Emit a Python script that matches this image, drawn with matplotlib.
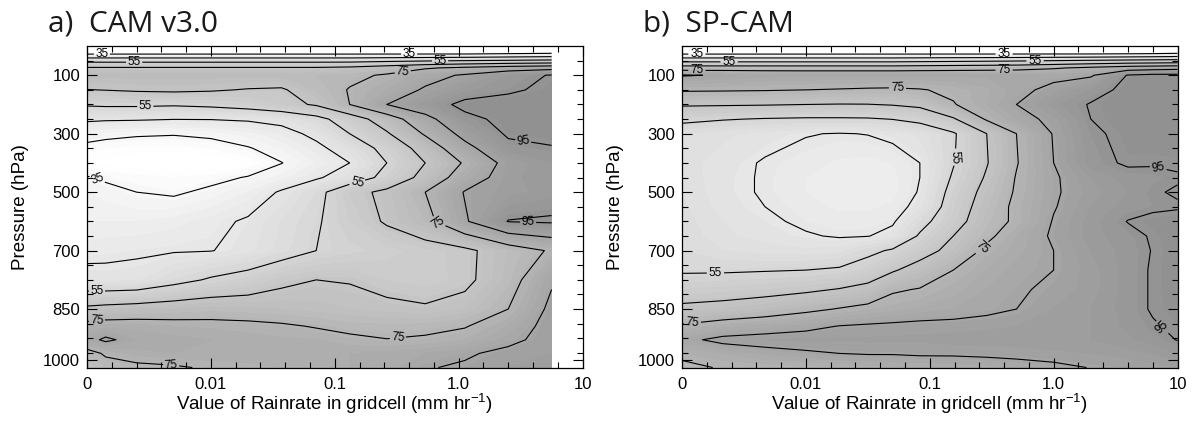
"""
Two-panel grayscale contour chart: frequency (%) versus pressure and
gridcell rainrate for CAM v3.0 and SP-CAM.
"""

import numpy as np
import matplotlib.pyplot as plt
from matplotlib.colors import LinearSegmentedColormap, Normalize
from matplotlib.ticker import FixedLocator, NullFormatter

plt.rcParams['font.family'] = ['Liberation Sans', 'DejaVu Sans']
plt.rcParams['mathtext.fontset'] = 'custom'
plt.rcParams['mathtext.rm'] = 'Liberation Sans'
plt.rcParams['mathtext.it'] = 'Liberation Sans:italic'

# ─── Data ────────────────────────────────────────────────────────────────────
# x: log10 of rainrate (mm/hr); the "0" bin sits at 0.001
RAIN_A = [-3, -2.85, -2.6, -2.3, -2.0, -1.7, -1.43, -1.15, -0.88, -0.58, -0.27, 0.05, 0.4, 0.75]
PRES_A = [0, 25, 50, 75, 100, 150, 200, 250, 300, 350, 400, 450, 500,
          600, 700, 775, 850, 900, 940, 980, 1021.4]
VAL_A = [
    [5, 5, 5, 5, 5, 5, 5, 5, 5, 5, 5, 5, 5, 5],
    [33, 33, 33, 33, 33, 33, 33, 33, 33, 33, 33, 33, 34, 35],
    [52, 52, 52, 52, 52, 52, 52, 52, 52, 53, 54, 55, 56, 57],
    [66, 66, 66, 66, 66, 66, 66, 66, 67, 70, 74, 77, 80, 82],
    [71, 71, 71, 71, 71, 71, 71, 72, 73, 76, 82, 86, 92, 95.5],
    [64.8, 65.2, 66, 66.5, 65.8, 64.5, 64, 70, 75.5, 80, 86, 91, 94, 96.5],
    [56, 56.5, 56.5, 56, 57, 59, 62, 66, 75, 85, 91, 97, 97.5, 97.5],
    [46.5, 46, 45.8, 45.2, 45.3, 46, 47.5, 52, 60, 70, 82, 93, 97, 97.5],
    [38, 37, 36, 35.5, 36.5, 39, 42, 47, 55, 64, 76, 88, 96, 97],
    [33, 32, 31, 31, 32, 34.5, 38, 43, 49, 58, 69, 82, 93, 94.5],
    [30, 29, 28, 27, 27.5, 30, 34.8, 40, 45, 55, 65, 76, 88, 92],
    [35.5, 34, 33, 32, 33, 35.5, 39, 44, 49, 58, 68, 80, 89, 92],
    [38, 37, 35, 34, 36.5, 40, 46, 52, 62, 67, 75, 85.5, 89, 91],
    [40, 40, 40, 41, 43, 46, 50, 54, 60, 66, 72, 84, 95.3, 96],
    [43, 43.5, 44, 44.5, 44.8, 47, 51, 55, 57, 59, 61, 63, 70, 76],
    [47.5, 47, 47.5, 52, 56, 59, 63, 65, 64.5, 62, 60.5, 63, 71, 84],
    [67, 68, 69, 70, 71, 70.5, 70, 69, 68, 67, 66, 68, 75, 87],
    [78, 79, 79, 78, 77.5, 77, 76, 74.5, 73, 72.5, 73, 74.5, 80, 88],
    [82, 86.5, 82, 81, 80, 79, 78.5, 78, 76.5, 75.2, 76, 78, 83, 88],
    [72, 76, 79, 80, 80, 80, 80, 80, 80, 80.5, 82, 84, 87, 88],
    [68, 72, 73, 74, 76, 77, 78, 79, 80, 81, 84.5, 86, 88, 89],
]

RAIN_B = [-3, -2.67, -2.33, -2, -1.73, -1.5, -1.3, -1.08, -0.81, -0.54, -0.3, 0.0, 0.3, 0.6, 0.8, 1.0]
PRES_B = [0, 25, 50, 75, 100, 150, 200, 250, 300, 400, 450, 500, 550,
          600, 650, 700, 750, 800, 850, 900, 940, 980, 1021.4]
VAL_B = [
    [5, 5, 5, 5, 5, 5, 5, 5, 5, 5, 5, 5, 5, 5, 5, 5],
    [33, 33, 33, 33, 33, 33, 33, 33, 33, 33, 33, 33, 33, 33.5, 34, 35],
    [52, 52, 52, 52, 52, 52, 52, 52.5, 53, 53.5, 54, 55, 56, 57, 57.5, 58],
    [70, 70, 70, 70, 70, 70, 70, 70.5, 71, 71.5, 72, 74, 77, 80, 81, 82],
    [85.5, 84.5, 83, 82.5, 82.5, 82.5, 82.5, 82.5, 82.5, 82.5, 82.5, 83, 84, 95.5, 97, 97],
    [76, 75.8, 75.5, 75, 74.5, 74, 73.8, 74.5, 76.5, 79.5, 83, 87, 92, 97, 97.5, 98],
    [66, 65.8, 65.5, 65, 64.7, 64.8, 65.5, 67, 74.5, 80, 85, 91, 95.5, 97.5, 98, 98],
    [57, 55.5, 54.5, 54, 54, 54.2, 55.2, 57.5, 64, 76, 82, 87, 95, 97.5, 98, 98],
    [50, 48.5, 47, 45.3, 44.7, 45.2, 46.5, 48.5, 54, 65, 75, 85.5, 94, 96.5, 97, 97],
    [49, 47, 44.5, 43, 41.5, 41, 42, 45, 54.5, 64.5, 74.5, 85, 93, 95.8, 95.5, 95.8],
    [49.5, 46.5, 44.5, 42, 40.5, 40, 41, 45, 56, 66, 75.5, 84, 90, 93, 93.5, 94.5],
    [50, 46.5, 44.5, 42, 40.5, 40, 41, 45.5, 58, 68, 76, 84, 89, 92, 94.5, 95.5],
    [50.5, 47, 45, 43, 41.5, 41.5, 42.5, 47, 59.5, 69.5, 77, 84.5, 90, 93, 94, 94.5],
    [51, 48, 46, 44, 43, 43, 44.2, 52, 61, 71, 76.5, 85.5, 91, 95.2, 96.5, 97],
    [51.5, 48.5, 47, 45.5, 44.5, 44.8, 47, 56, 65, 73, 80, 86, 91, 93.5, 95.5, 97],
    [52, 50, 49, 48.5, 49, 53, 56, 61, 68, 77, 81, 85, 90, 93, 95.2, 97],
    [54, 54, 54.5, 55, 56, 59, 64, 69, 75, 80, 83, 85, 89, 93, 95.5, 97],
    [60, 61, 62, 63.5, 65.5, 68, 74, 75.5, 79, 82, 84, 86.5, 89, 93, 95.5, 97],
    [67, 68, 70, 73, 75.5, 77.5, 79, 80.5, 82, 83.5, 85, 88, 90, 93, 95.5, 96.5],
    [76, 79, 81, 83, 85.2, 86, 86.5, 87, 87, 87.5, 88, 89, 90, 92.5, 94.5, 96],
    [83, 87, 88, 88.5, 88.5, 88.5, 88.5, 88.5, 89, 89, 89, 89.5, 90, 91.5, 93, 95.2],
    [78, 80, 82.5, 84, 85, 85.5, 85.5, 86, 86, 86.5, 87, 87.5, 88, 89, 90, 92],
    [72, 76, 76.5, 77, 78, 79, 79.5, 80, 80.5, 81, 82, 83.5, 85.2, 86, 87, 88],
]

X_TICKS = [-3, -2, -1, 0, 1]
X_TICK_LABELS = ['0', '0.01', '0.1', '1.0', '10']
P_TICKS = [100, 300, 500, 700, 850, 1000]
PLAIN_LEVELS = [45, 65, 85]
LABEL_LEVELS = [35, 55, 75, 95]

# rough spots for the contour labels (x, hPa)
LABELS_A = [(-2.88, 28), (-2.62, 55), (-0.4, 28), (-0.15, 55), (-0.45, 92),
            (-2.53, 205), (-2.92, 459), (-0.83, 447), (-0.15, 584),
            (0.52, 327), (0.56, 610), (-2.92, 808), (-2.92, 887),
            (-0.49, 939), (-2.32, 1009)]
LABELS_B = [(-2.88, 28), (-2.62, 58), (-2.88, 85), (-0.4, 28), (-0.15, 58),
            (-0.4, 85), (-1.26, 140), (-0.8, 380), (0.84, 425),
            (-0.6, 680), (-2.73, 764), (-2.92, 877), (0.92, 887)]

# ─── Pressure axis: stretched, piecewise-linear in position ─────────────────
P_KNOTS = [0, 700, 850, 1000, 1021.4]
U_KNOTS = [0, 14, 18, 21.5, 22]


def p2u(p):
    return np.interp(p, P_KNOTS, U_KNOTS)


def u2p(u):
    return np.interp(u, U_KNOTS, P_KNOTS)


cmap = LinearSegmentedColormap.from_list('grays', [(1, 1, 1), (0.55, 0.55, 0.55)])
norm = Normalize(vmin=30, vmax=100)
fill_levels = np.arange(0, 101, 2)

fig = plt.figure(figsize=(11.94, 4.21), dpi=100)
fig.patch.set_facecolor('white')

panels = [
    (0.0729, RAIN_A, PRES_A, VAL_A, LABELS_A, 'a)  CAM v3.0', 48),
    (0.5712, RAIN_B, PRES_B, VAL_B, LABELS_B, 'b)  SP-CAM', 643),
]

for left, rain, pres, vals, lab_pos, title, tx in panels:
    ax = fig.add_axes([left, 0.127, 0.4150, 0.7637])
    ax.set_yscale('function', functions=(p2u, u2p))
    X, P = np.meshgrid(rain, pres)
    Z = np.array(vals, dtype=float)

    ax.contourf(X, P, Z, levels=fill_levels, cmap=cmap, norm=norm, extend='both')
    ax.contour(X, P, Z, levels=PLAIN_LEVELS, colors='black', linewidths=0.8)
    cs = ax.contour(X, P, Z, levels=LABEL_LEVELS, colors='black', linewidths=0.8)
    ax.clabel(cs, fmt='%d', fontsize=8.5, inline=True, inline_spacing=2, manual=lab_pos)

    ax.set_xlim(-3, 1)
    ax.set_ylim(1021.4, 0)
    ax.xaxis.set_major_locator(FixedLocator(X_TICKS))
    ax.set_xticklabels(X_TICK_LABELS)
    ax.xaxis.set_minor_locator(FixedLocator(np.arange(-3, 1.01, 0.2)))
    ax.yaxis.set_major_locator(FixedLocator(P_TICKS))
    ax.set_yticklabels([str(p) for p in P_TICKS])
    ax.yaxis.set_minor_locator(FixedLocator(u2p(np.arange(1, 22))))
    ax.yaxis.set_minor_formatter(NullFormatter())

    ax.tick_params(which='both', direction='in', top=True, right=True,
                   width=0.8, colors='black')
    ax.tick_params(which='major', length=7, labelsize=12)
    ax.tick_params(axis='x', which='major', pad=7)
    ax.tick_params(axis='y', which='major', pad=5)
    ax.tick_params(which='minor', length=4)
    for spine in ax.spines.values():
        spine.set_linewidth(0.9)

    ax.set_ylabel('Pressure (hPa)', fontsize=13.5, labelpad=10)
    ax.set_xlabel(r'Value of Rainrate in gridcell (mm hr$^{-1}$)', fontsize=13.5, labelpad=0)

    fig.text(tx / 1194, 1 - 32 / 421, title, fontsize=21.5, family=['Open Sans', 'DejaVu Sans'],
             ha='left', va='baseline', color='#1a1a1a')

plt.savefig('out.png', dpi=100, facecolor='white')
